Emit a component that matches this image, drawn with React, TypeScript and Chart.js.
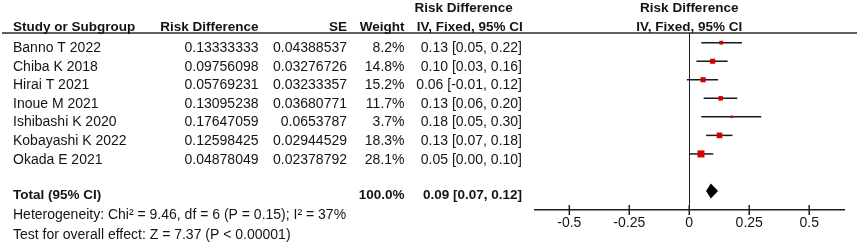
import React, { useEffect, useRef } from "react";
import { Chart, registerables } from "chart.js";

Chart.register(...registerables);

// ---- data ----
const studies = [
  "Banno T 2022",
  "Chiba K 2018",
  "Hirai T 2021",
  "Inoue M 2021",
  "Ishibashi K 2020",
  "Kobayashi K 2022",
  "Okada E 2021",
];
const riskDiff = [0.13333333, 0.09756098, 0.05769231, 0.13095238, 0.17647059, 0.12598425, 0.04878049];
const stdErr = [0.04388537, 0.03276726, 0.03233357, 0.03680771, 0.0653787, 0.02944529, 0.02378792];
const weights = [8.2, 14.8, 15.2, 11.7, 3.7, 18.3, 28.1];
const ciLow = [0.05, 0.03, -0.01, 0.06, 0.05, 0.07, 0.0];
const ciHigh = [0.22, 0.16, 0.12, 0.2, 0.3, 0.18, 0.1];

const totalLabel = "Total (95% CI)";
const totalWeight = 100.0;
const totalEst = 0.09;
const totalLow = 0.07;
const totalHigh = 0.12;

const heterogeneityText = "Heterogeneity: Chi\u00B2 = 9.46, df = 6 (P = 0.15); I\u00B2 = 37%";
const overallText = "Test for overall effect: Z = 7.37 (P < 0.00001)";

const headerCols = ["Study or Subgroup", "Risk Difference", "SE", "Weight"];
const ciHeaderTop = "Risk Difference";
const ciHeaderBottom = "IV, Fixed, 95% CI";
const xTicks = [-0.5, -0.25, 0, 0.25, 0.5];

// ---- styling ----
const FAMILY = "'Liberation Sans', Arial, Helvetica, sans-serif";
const REG = `14px ${FAMILY}`;
const BOLD = `bold 13.5px ${FAMILY}`;
const TEXT = "#141414";
const LINE = "#1e1e1e";
const RED = "#d40000";

const fmt2 = (v: number) => v.toFixed(2);
const ciText = (e: number, l: number, h: number) => `${fmt2(e)} [${fmt2(l)}, ${fmt2(h)}]`;

const forestPlugin = {
  id: "forest",
  beforeDatasetsDraw(chart: any) {
    const { ctx, chartArea, scales } = chart;
    const xs = scales.x;
    const ys = scales.y;
    ctx.save();
    // header rule
    ctx.strokeStyle = "#2a2a2a";
    ctx.lineWidth = 1.5;
    ctx.beginPath();
    ctx.moveTo(2, chartArea.top);
    ctx.lineTo(857, chartArea.top);
    ctx.stroke();
    // zero line
    const x0 = Math.round(xs.getPixelForValue(0)) + 0.5;
    ctx.strokeStyle = LINE;
    ctx.lineWidth = 1;
    ctx.beginPath();
    ctx.moveTo(x0, chartArea.top);
    ctx.lineTo(x0, chartArea.bottom);
    ctx.stroke();
    // tick marks crossing the axis
    ctx.lineWidth = 1.5;
    xTicks.forEach((v) => {
      const px = xs.getPixelForValue(v);
      ctx.beginPath();
      ctx.moveTo(px, chartArea.bottom - 5);
      ctx.lineTo(px, chartArea.bottom + 5);
      ctx.stroke();
    });
    // whiskers
    ctx.strokeStyle = "#1a1a1a";
    ctx.lineWidth = 1.5;
    studies.forEach((_, i) => {
      const y = ys.getPixelForValue(i);
      ctx.beginPath();
      ctx.moveTo(xs.getPixelForValue(ciLow[i]), y);
      ctx.lineTo(xs.getPixelForValue(ciHigh[i]), y);
      ctx.stroke();
    });
    ctx.restore();
  },
  afterDatasetsDraw(chart: any) {
    const { ctx, scales } = chart;
    const xs = scales.x;
    const ys = scales.y;
    ctx.save();
    // diamond for pooled estimate
    const yc = ys.getPixelForValue(studies.length + 1);
    const h = 7.5;
    ctx.fillStyle = "#000";
    ctx.beginPath();
    ctx.moveTo(xs.getPixelForValue(totalLow), yc);
    ctx.lineTo(xs.getPixelForValue(totalEst), yc - h);
    ctx.lineTo(xs.getPixelForValue(totalHigh), yc);
    ctx.lineTo(xs.getPixelForValue(totalEst), yc + h);
    ctx.closePath();
    ctx.fill();

    // table text
    const colName = 13;
    const colRD = 258.5;
    const colSE = 347;
    const colW = 404.5;
    const colCI = 522;
    const zeroX = xs.getPixelForValue(0);
    ctx.fillStyle = TEXT;
    ctx.textBaseline = "alphabetic";

    // headers
    ctx.font = BOLD;
    ctx.textAlign = "center";
    ctx.fillText(ciHeaderTop, 463.7, 12);
    ctx.fillText(ciHeaderTop, zeroX, 12);
    ctx.fillText(ciHeaderBottom, 469.8, 30.5);
    ctx.fillText(ciHeaderBottom, zeroX, 30.5);
    ctx.textAlign = "left";
    ctx.fillText(headerCols[0], colName, 30.5);
    ctx.textAlign = "right";
    ctx.fillText(headerCols[1], colRD, 30.5);
    ctx.fillText(headerCols[2], colSE, 30.5);
    ctx.fillText(headerCols[3], colW, 30.5);

    // study rows
    ctx.font = REG;
    studies.forEach((name, i) => {
      const by = ys.getPixelForValue(i) + 9.6;
      ctx.textAlign = "left";
      ctx.fillText(name, colName, by);
      ctx.textAlign = "right";
      ctx.fillText(String(riskDiff[i]), colRD, by);
      ctx.fillText(String(stdErr[i]), colSE, by);
      ctx.fillText(weights[i].toFixed(1) + "%", colW, by);
      ctx.fillText(ciText(riskDiff[i], ciLow[i], ciHigh[i]), colCI, by);
    });

    // total row
    const ty = ys.getPixelForValue(studies.length + 1) + 8;
    ctx.font = BOLD;
    ctx.textAlign = "left";
    ctx.fillText(totalLabel, colName, ty);
    ctx.textAlign = "right";
    ctx.fillText(totalWeight.toFixed(1) + "%", colW, ty);
    ctx.fillText(ciText(totalEst, totalLow, totalHigh), colCI, ty);

    ctx.font = REG;
    ctx.textAlign = "left";
    ctx.fillText(heterogeneityText, colName, 219);
    ctx.fillText(overallText, colName, 239);
    ctx.restore();
  },
};

export default function App() {
  const canvasRef = useRef<HTMLCanvasElement | null>(null);

  useEffect(() => {
    const canvas = canvasRef.current;
    if (!canvas) return;
    const chart = new Chart(canvas, {
      type: "scatter",
      data: {
        datasets: [
          {
            data: studies.map((_, i) => ({ x: riskDiff[i], y: i })),
            pointStyle: "rect",
            pointRadius: weights.map((w) => (1.32 * Math.sqrt(w)) / Math.SQRT2),
            backgroundColor: RED,
            borderColor: RED,
            borderWidth: 0,
          },
        ],
      },
      options: {
        animation: false,
        responsive: false,
        maintainAspectRatio: false,
        events: [],
        layout: { padding: { left: 535, right: 14, top: 33, bottom: 0 } },
        plugins: { legend: { display: false }, tooltip: { enabled: false } },
        scales: {
          x: {
            type: "linear",
            min: -0.643,
            max: 0.645,
            grid: { display: false, drawTicks: false },
            border: { display: true, color: LINE, width: 1.5 },
            ticks: {
              padding: 5,
              color: TEXT,
              font: { family: FAMILY, size: 14 },
              callback: (v: any) => String(v),
            },
            afterBuildTicks: (s: any) => {
              s.ticks = xTicks.map((v) => ({ value: v }));
            },
            afterFit: (s: any) => {
              s.height = 32;
            },
          },
          y: {
            type: "linear",
            display: false,
            reverse: true,
            min: -0.523,
            max: 9.025,
          },
        },
      },
      plugins: [forestPlugin],
    });
    return () => chart.destroy();
  }, []);

  return (
    <div style={{ position: "fixed", left: 0, top: 0, width: 858, height: 242, background: "#fff" }}>
      <canvas ref={canvasRef} width={858} height={242} style={{ display: "block", width: 858, height: 242 }} />
    </div>
  );
}
